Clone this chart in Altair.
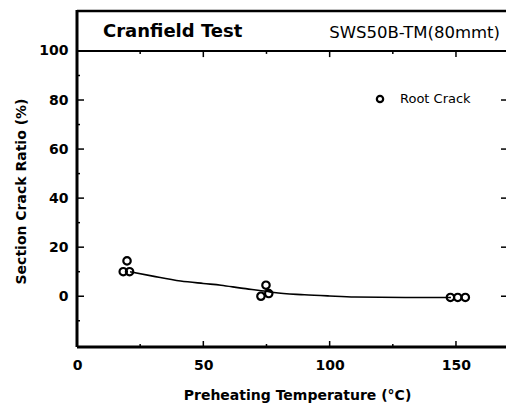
import altair as alt
import pandas as pd

# ---- data ----
root_temp = [18.3, 19.8, 20.8, 72.8, 74.8, 75.9, 147.8, 150.7, 153.7]
root_ratio = [10, 14.4, 10, 0, 4.5, 1.1, -0.5, -0.5, -0.5]

curve_temp = [21, 30, 41, 50, 57, 65, 75, 78, 90, 100, 110, 130, 148]
curve_ratio = [10, 8.2, 6.2, 5.2, 4.5, 3.3, 2.0, 1.5, 0.6, 0.1, -0.3, -0.5, -0.5]

x_labels = [0, 50, 100, 150]
y_labels = [0, 20, 40, 60, 80, 100]
x_major_ticks = [50, 100, 150]
x_minor_ticks = [25, 75, 125]
y_major_ticks = [0, 20, 40, 60, 80]
y_minor_ticks = [-10, 10, 30, 50, 70, 90]
y_right_ticks = [0, 20, 40, 60, 80]

W, H = 429, 337
FONT = "DejaVu Sans"

xs = alt.Scale(domain=[0, 169.8], nice=False, zero=False)
ys = alt.Scale(domain=[-20.7, 116.7], nice=False, zero=False)

pts = pd.DataFrame({"t": root_temp, "r": root_ratio})
crv = pd.DataFrame({"t": curve_temp, "r": curve_ratio})

base_x = alt.X("t:Q", scale=xs,
               axis=alt.Axis(values=x_labels, title="Preheating Temperature (°C)",
                             grid=False, ticks=False, domain=False, labelFlush=False,
                             labelFont=FONT, labelFontWeight="bold", labelFontSize=14,
                             labelPadding=11, labelColor="black",
                             titleFont=FONT, titleFontWeight="bold", titleFontSize=14,
                             titleColor="black", titleX=220, titleY=52.5,
                             titleBaseline="alphabetic", titleAnchor="middle"))
base_y = alt.Y("r:Q", scale=ys,
               axis=alt.Axis(values=y_labels, title="Section Crack Ratio (%)",
                             grid=False, ticks=False, domain=False, labelFlush=False,
                             labelFont=FONT, labelFontWeight="bold", labelFontSize=14,
                             labelPadding=9, labelColor="black",
                             titleFont=FONT, titleFontWeight="bold", titleFontSize=14,
                             titleColor="black", titleX=-52, titleY=181,
                             titleBaseline="alphabetic", titleAnchor="middle"))

curve = alt.Chart(crv).mark_line(color="black", strokeWidth=1.6, interpolate="monotone").encode(
    x=base_x, y=base_y)

points = alt.Chart(pts).mark_point(shape="circle", filled=False, color="black",
                                   strokeWidth=2.2, size=55, opacity=1).encode(
    x=alt.X("t:Q", scale=xs), y=alt.Y("r:Q", scale=ys))

# header separator at 100
sep = alt.Chart(pd.DataFrame({"v": [100]})).mark_rule(color="black", strokeWidth=2).encode(
    y=alt.Y("v:Q", scale=ys), x=alt.value(0), x2=alt.value(W))

# frame lines
left_line = alt.Chart(pd.DataFrame({"v": [0]})).mark_rule(color="black", strokeWidth=3).encode(
    x=alt.value(0), y=alt.value(0), y2=alt.value(H))
top_line = alt.Chart(pd.DataFrame({"v": [0]})).mark_rule(color="black", strokeWidth=2.5).encode(
    y=alt.value(1), x=alt.value(0), x2=alt.value(W))
bottom_line = alt.Chart(pd.DataFrame({"v": [0]})).mark_rule(color="black", strokeWidth=3).encode(
    y=alt.value(H), x=alt.value(0), x2=alt.value(W))

# left ticks
lt_major = alt.Chart(pd.DataFrame({"v": y_major_ticks})).mark_rule(color="black", strokeWidth=1.5).encode(
    y=alt.Y("v:Q", scale=ys), x=alt.value(0), x2=alt.value(7))
lt_minor = alt.Chart(pd.DataFrame({"v": y_minor_ticks})).mark_rule(color="black", strokeWidth=1.5).encode(
    y=alt.Y("v:Q", scale=ys), x=alt.value(0), x2=alt.value(3))
rt_major = alt.Chart(pd.DataFrame({"v": y_right_ticks})).mark_rule(color="black", strokeWidth=1.5).encode(
    y=alt.Y("v:Q", scale=ys), x=alt.value(W - 5), x2=alt.value(W))

# bottom ticks
bt_major = alt.Chart(pd.DataFrame({"v": x_major_ticks})).mark_rule(color="black", strokeWidth=1.5).encode(
    x=alt.X("v:Q", scale=xs), y=alt.value(H), y2=alt.value(H - 6))
bt_minor = alt.Chart(pd.DataFrame({"v": x_minor_ticks})).mark_rule(color="black", strokeWidth=1.5).encode(
    x=alt.X("v:Q", scale=xs), y=alt.value(H), y2=alt.value(H - 3))
# top ticks (on the 100 line, pointing down)
tt_major = alt.Chart(pd.DataFrame({"v": x_major_ticks})).mark_rule(color="black", strokeWidth=1.5).encode(
    x=alt.X("v:Q", scale=xs), y=alt.datum(100, scale=ys), y2=alt.datum(97.5))
tt_minor = alt.Chart(pd.DataFrame({"v": x_minor_ticks})).mark_rule(color="black", strokeWidth=1.5).encode(
    x=alt.X("v:Q", scale=xs), y=alt.datum(100, scale=ys), y2=alt.datum(98.8))

# header texts
title_txt = alt.Chart(pd.DataFrame({"s": ["Cranfield Test"]})).mark_text(
    font=FONT, fontWeight="bold", fontSize=18, align="left", baseline="alphabetic", color="black").encode(
    text="s:N", x=alt.value(26), y=alt.value(27))
spec_txt = alt.Chart(pd.DataFrame({"s": ["SWS50B-TM(80mmt)"]})).mark_text(
    font=FONT, fontSize=16.5, align="right", baseline="alphabetic", color="black").encode(
    text="s:N", x=alt.value(423), y=alt.value(28))

# legend
leg_pt = alt.Chart(pd.DataFrame({"s": ["Root Crack"]})).mark_point(
    shape="circle", filled=False, color="black", strokeWidth=2.2, size=40, opacity=1).encode(
    x=alt.value(303), y=alt.value(89))
leg_txt = alt.Chart(pd.DataFrame({"s": ["Root Crack"]})).mark_text(
    font=FONT, fontSize=13, align="left", baseline="middle", color="black").encode(
    text="s:N", x=alt.value(323), y=alt.value(89))

chart = alt.layer(curve, points, sep, left_line, top_line, bottom_line, lt_major, lt_minor,
                  rt_major, bt_major, bt_minor, tt_major, tt_minor,
                  title_txt, spec_txt, leg_pt, leg_txt).properties(
    width=W, height=H,
    autosize=alt.AutoSizeParams(type="none"),
    padding={"left": 69, "top": 2, "right": 0, "bottom": 57},
).configure_view(stroke="black", strokeWidth=2.5).configure(background="white")

chart.save("out.html", embed_options={"renderer": "svg", "actions": False})
